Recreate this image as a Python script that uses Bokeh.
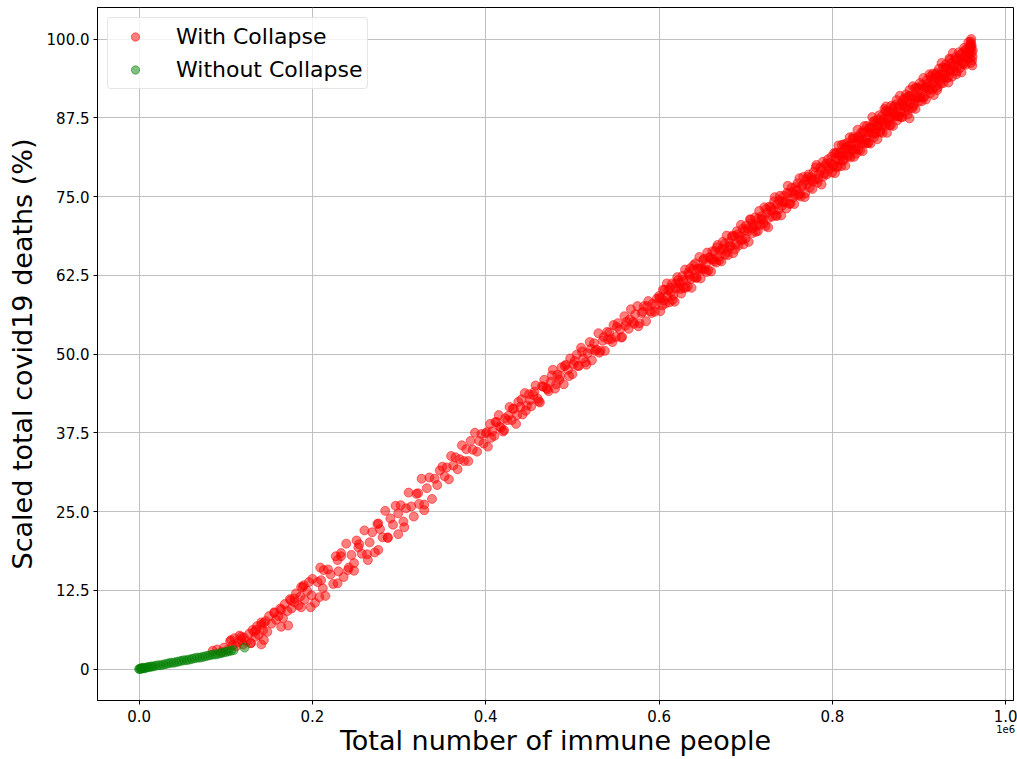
from bokeh.plotting import figure
from bokeh.models import Range1d, FixedTicker, Legend, LegendItem, LinearAxis
from bokeh.embed import file_html
from bokeh.resources import INLINE

# ---- data (x in units of 1e6 immune people, y in % of scaled deaths) ----
red_immune_seg_a = [0.085, 0.090, 0.095, 0.098, 0.102, 0.105, 0.108, 0.110, 0.112, 0.114,
                    0.116, 0.118, 0.120, 0.121, 0.124, 0.127, 0.129, 0.131, 0.134, 0.136,
                    0.138, 0.141, 0.143, 0.146, 0.148, 0.150, 0.153, 0.156, 0.158, 0.161,
                    0.163, 0.166, 0.168, 0.171, 0.174, 0.176, 0.179, 0.181, 0.184, 0.186,
                    0.189, 0.191, 0.194, 0.196, 0.199]
red_deaths_seg_a = [2.9, 3.1, 2.7, 3.4, 3.0, 4.4, 3.8, 4.9, 3.6, 4.2,
                    5.3, 4.6, 3.9, 5.0, 4.4, 5.6, 4.1, 6.2, 5.1, 6.8,
                    5.4, 7.0, 6.1, 7.6, 5.9, 8.4, 7.2, 9.0, 7.8, 8.4,
                    9.6, 8.1, 10.3, 9.2, 11.1, 9.6, 10.6, 12.0, 10.1, 11.5,
                    13.0, 11.0, 12.4, 13.8, 11.7]

red_immune_lower_extra = [0.106, 0.118, 0.129, 0.133, 0.135, 0.141, 0.141, 0.144, 0.144, 0.156,
                          0.164, 0.164, 0.172, 0.175, 0.179, 0.187, 0.187, 0.190, 0.198, 0.208,
                          0.210, 0.213, 0.229, 0.229, 0.233, 0.241, 0.248, 0.253, 0.264, 0.276,
                          0.276, 0.287, 0.299, 0.306, 0.322, 0.329]
red_deaths_lower_extra = [4.6, 5.1, 4.1, 5.9, 6.2, 3.9, 7.4, 4.6, 7.3, 8.9,
                          6.7, 9.4, 6.9, 10.9, 11.2, 9.8, 13.0, 13.3, 9.8, 11.4,
                          14.1, 15.7, 13.6, 17.3, 18.4, 15.7, 16.8, 19.3, 17.3, 18.9,
                          23.1, 20.9, 24.7, 22.5, 27.9, 25.2]

red_immune_seg_b = [0.200, 0.203, 0.206, 0.209, 0.212, 0.215, 0.218, 0.221, 0.224, 0.227,
                    0.230, 0.233, 0.236, 0.239, 0.242, 0.245, 0.248, 0.251, 0.254, 0.257,
                    0.260, 0.263, 0.266, 0.269, 0.272, 0.275, 0.278, 0.281, 0.284, 0.287,
                    0.290, 0.293, 0.296, 0.299, 0.302, 0.305, 0.308, 0.311, 0.314, 0.317,
                    0.320, 0.323, 0.326, 0.329, 0.332, 0.335, 0.338, 0.341, 0.344, 0.347]
red_deaths_seg_b = [14.3, 10.5, 13.8, 16.1, 12.8, 11.6, 15.8, 15.0, 13.5, 17.9,
                    15.5, 17.9, 14.6, 19.9, 16.1, 18.1, 15.6, 20.4, 19.8, 18.3,
                    22.0, 18.2, 20.1, 21.7, 18.5, 23.0, 22.2, 20.9, 25.1, 20.8,
                    23.9, 22.9, 25.9, 21.4, 26.0, 23.4, 25.5, 28.0, 25.8, 24.2,
                    27.8, 26.2, 30.2, 26.1, 28.7, 30.4, 27.0, 30.2, 29.2, 31.5]

red_immune_seg_c = [0.3500, 0.3525, 0.3550, 0.3575, 0.3600, 0.3625, 0.3650, 0.3675, 0.3700, 0.3725,
                    0.3750, 0.3775, 0.3800, 0.3825, 0.3850, 0.3875, 0.3900, 0.3925, 0.3950, 0.3975,
                    0.4000, 0.4025, 0.4050, 0.4075, 0.4100, 0.4125, 0.4150, 0.4175, 0.4200, 0.4225,
                    0.4250, 0.4275, 0.4300, 0.4325, 0.4350, 0.4375, 0.4400, 0.4425, 0.4450, 0.4475,
                    0.4500, 0.4525, 0.4550, 0.4575, 0.4600, 0.4625, 0.4650, 0.4675, 0.4700, 0.4725,
                    0.4750, 0.4775, 0.4800, 0.4825, 0.4850, 0.4875, 0.4900, 0.4925, 0.4950, 0.4975,
                    0.5000, 0.5025, 0.5050, 0.5075, 0.5100, 0.5125, 0.5150, 0.5175, 0.5200, 0.5225,
                    0.5250, 0.5275, 0.5300, 0.5325, 0.5350, 0.5375, 0.5400, 0.5425, 0.5450, 0.5475,
                    0.5500, 0.5525, 0.5550, 0.5575, 0.5600, 0.5625, 0.5650, 0.5675, 0.5700, 0.5725,
                    0.5750, 0.5775, 0.5800, 0.5825, 0.5850, 0.5875, 0.5900, 0.5925, 0.5950, 0.5975]
red_deaths_seg_c = [32.1, 30.6, 32.0, 30.1, 33.8, 32.3, 33.6, 31.7, 33.3, 35.5,
                    33.0, 34.9, 33.0, 36.2, 34.8, 37.5, 34.5, 36.2, 37.3, 35.8,
                    37.4, 35.3, 38.9, 37.7, 37.0, 39.2, 40.3, 38.3, 37.7, 39.8,
                    39.5, 41.6, 39.5, 41.3, 38.9, 42.4, 41.6, 40.4, 43.8, 41.8,
                    43.6, 41.7, 43.5, 45.0, 42.9, 42.3, 44.9, 45.9, 44.6, 44.1,
                    45.6, 47.5, 44.5, 46.7, 45.9, 47.9, 45.2, 48.3, 47.5, 49.3,
                    46.8, 48.9, 49.9, 48.1, 51.0, 49.3, 48.7, 50.1, 51.9, 49.0,
                    51.7, 50.7, 53.3, 50.5, 52.1, 50.5, 53.5, 53.4, 52.4, 54.6,
                    52.7, 54.9, 53.9, 52.7, 56.0, 55.1, 54.0, 57.1, 55.1, 56.3,
                    57.6, 54.9, 56.5, 57.6, 55.2, 58.4, 56.8, 58.0, 56.7, 58.8]

red_immune_seg_c2 = [0.4012, 0.4062, 0.4112, 0.4162, 0.4212, 0.4262, 0.4312, 0.4362, 0.4412, 0.4462,
                     0.4512, 0.4562, 0.4612, 0.4662, 0.4712, 0.4762, 0.4812, 0.4862, 0.4912, 0.4962,
                     0.5012, 0.5062, 0.5112, 0.5162, 0.5212, 0.5262, 0.5312, 0.5362, 0.5412, 0.5462,
                     0.5512, 0.5562, 0.5612, 0.5662, 0.5712, 0.5762, 0.5812, 0.5862, 0.5912, 0.5962]
red_deaths_seg_c2 = [37.6, 36.7, 39.2, 38.5, 37.9, 40.2, 41.3, 40.3, 42.8, 41.0,
                     42.7, 44.0, 42.5, 44.8, 44.4, 46.6, 45.2, 46.5, 48.1, 46.5,
                     48.4, 48.1, 50.4, 48.3, 50.8, 50.5, 50.2, 52.7, 52.3, 51.9,
                     54.3, 52.6, 54.5, 55.5, 54.8, 54.4, 56.7, 57.6, 56.5, 57.8]

red_immune_seg_d = [0.6000, 0.6015, 0.6030, 0.6045, 0.6060, 0.6075, 0.6090, 0.6105, 0.6120, 0.6135,
                    0.6150, 0.6165, 0.6180, 0.6195, 0.6210, 0.6225, 0.6240, 0.6255, 0.6270, 0.6285,
                    0.6300, 0.6315, 0.6330, 0.6345, 0.6360, 0.6375, 0.6390, 0.6405, 0.6420, 0.6435,
                    0.6450, 0.6465, 0.6480, 0.6495, 0.6510, 0.6525, 0.6540, 0.6555, 0.6570, 0.6585,
                    0.6600, 0.6615, 0.6630, 0.6645, 0.6660, 0.6675, 0.6690, 0.6705, 0.6720, 0.6735,
                    0.6750, 0.6765, 0.6780, 0.6795, 0.6810, 0.6825, 0.6840, 0.6855, 0.6870, 0.6885,
                    0.6900, 0.6915, 0.6930, 0.6945, 0.6960, 0.6975, 0.6990, 0.7005, 0.7020, 0.7035,
                    0.7050, 0.7065, 0.7080, 0.7095, 0.7110, 0.7125, 0.7140, 0.7155, 0.7170, 0.7185,
                    0.7200, 0.7215, 0.7230, 0.7245, 0.7260, 0.7275, 0.7290, 0.7305, 0.7320, 0.7335,
                    0.7350, 0.7365, 0.7380, 0.7395, 0.7410, 0.7425, 0.7440, 0.7455, 0.7470, 0.7485,
                    0.7500, 0.7515, 0.7530, 0.7545, 0.7560, 0.7575, 0.7590, 0.7605, 0.7620, 0.7635,
                    0.7650, 0.7665, 0.7680, 0.7695, 0.7710, 0.7725, 0.7740, 0.7755, 0.7770, 0.7785,
                    0.7800, 0.7815, 0.7830, 0.7845, 0.7860, 0.7875, 0.7890, 0.7905, 0.7920, 0.7935,
                    0.7950, 0.7965, 0.7980, 0.7995]
red_deaths_seg_d = [59.2, 56.8, 58.8, 60.2, 58.5, 58.0, 61.2, 60.1, 58.2, 59.8,
                    61.2, 59.3, 58.3, 61.2, 62.2, 60.5, 61.3, 59.6, 62.4, 60.5,
                    63.4, 61.7, 60.7, 62.6, 63.6, 60.5, 63.4, 62.2, 64.4, 62.1,
                    63.6, 65.4, 62.0, 63.4, 64.9, 63.4, 64.3, 66.1, 63.3, 65.3,
                    63.1, 66.3, 65.0, 66.3, 64.5, 67.3, 65.4, 66.4, 64.7, 67.8,
                    66.6, 65.8, 68.8, 65.7, 67.7, 67.1, 68.6, 66.0, 68.7, 67.4,
                    69.5, 67.2, 68.7, 70.5, 68.1, 67.4, 69.6, 70.4, 69.4, 67.8,
                    71.4, 70.7, 69.2, 70.5, 71.7, 70.3, 69.5, 72.7, 70.5, 71.9,
                    71.3, 73.3, 70.3, 72.4, 70.1, 73.4, 73.3, 71.8, 72.8, 74.9,
                    72.0, 73.8, 72.9, 75.1, 72.0, 74.2, 75.1, 74.0, 73.1, 76.7,
                    75.5, 73.9, 76.4, 74.8, 73.8, 76.5, 76.1, 75.2, 77.9, 75.0,
                    76.6, 78.1, 74.9, 77.6, 76.9, 78.5, 76.4, 78.0, 76.2, 78.9,
                    77.7, 80.0, 77.2, 78.6, 79.6, 76.9, 80.5, 78.6, 79.9, 78.5,
                    80.9, 79.3, 80.4, 78.8]

red_immune_seg_d2 = [0.6007, 0.6037, 0.6067, 0.6097, 0.6127, 0.6157, 0.6187, 0.6217, 0.6247, 0.6277,
                     0.6307, 0.6337, 0.6367, 0.6397, 0.6427, 0.6457, 0.6487, 0.6517, 0.6547, 0.6577,
                     0.6607, 0.6637, 0.6667, 0.6697, 0.6727, 0.6757, 0.6787, 0.6817, 0.6847, 0.6877,
                     0.6907, 0.6937, 0.6967, 0.6997, 0.7027, 0.7057, 0.7087, 0.7117, 0.7147, 0.7177,
                     0.7207, 0.7237, 0.7267, 0.7297, 0.7327, 0.7357, 0.7387, 0.7417, 0.7447, 0.7477,
                     0.7507, 0.7537, 0.7567, 0.7597, 0.7627, 0.7657, 0.7687, 0.7717, 0.7747, 0.7777,
                     0.7807, 0.7837, 0.7867, 0.7897, 0.7927, 0.7957, 0.7987]
red_deaths_seg_d2 = [58.9, 57.7, 60.2, 59.1, 60.5, 58.6, 60.5, 61.7, 60.3, 61.7,
                     60.5, 62.9, 61.9, 64.1, 62.1, 63.5, 63.6, 65.1, 63.0, 65.3,
                     65.0, 64.7, 66.9, 64.9, 66.7, 67.5, 66.2, 67.1, 68.8, 66.6,
                     69.0, 68.1, 69.9, 68.3, 69.9, 71.3, 70.0, 69.4, 71.5, 71.4,
                     70.7, 73.0, 71.6, 72.8, 74.2, 71.9, 74.4, 73.5, 74.2, 75.6,
                     73.8, 75.7, 75.3, 77.1, 75.4, 76.9, 75.5, 78.1, 77.6, 77.4,
                     79.6, 77.8, 79.1, 78.2, 80.2, 79.7, 81.3]

red_immune_seg_e = [0.801, 0.802, 0.803, 0.804, 0.805, 0.806, 0.807, 0.808, 0.809, 0.810,
                    0.811, 0.812, 0.813, 0.814, 0.815, 0.816, 0.817, 0.818, 0.819, 0.820,
                    0.821, 0.822, 0.823, 0.824, 0.825, 0.826, 0.827, 0.828, 0.829, 0.830,
                    0.831, 0.832, 0.833, 0.834, 0.835, 0.836, 0.837, 0.838, 0.839, 0.840,
                    0.841, 0.842, 0.843, 0.844, 0.845, 0.846, 0.847, 0.848, 0.849, 0.850,
                    0.851, 0.852, 0.853, 0.854, 0.855, 0.856, 0.857, 0.858, 0.859, 0.860,
                    0.861, 0.862, 0.863, 0.864, 0.865, 0.866, 0.867, 0.868, 0.869, 0.870,
                    0.871, 0.872, 0.873, 0.874, 0.875, 0.876, 0.877, 0.878, 0.879, 0.880,
                    0.881, 0.882, 0.883, 0.884, 0.885, 0.886, 0.887, 0.888, 0.889, 0.890,
                    0.891, 0.892, 0.893, 0.894, 0.895, 0.896, 0.897, 0.898, 0.899, 0.900,
                    0.901, 0.902, 0.903, 0.904, 0.905, 0.906, 0.907, 0.908, 0.909, 0.910,
                    0.911, 0.912, 0.913, 0.914, 0.915, 0.916, 0.917, 0.918, 0.919, 0.920,
                    0.921, 0.922, 0.923, 0.924, 0.925, 0.926, 0.927, 0.928, 0.929, 0.930,
                    0.931, 0.932, 0.933, 0.934, 0.935, 0.936, 0.937, 0.938, 0.939, 0.940,
                    0.941, 0.942, 0.943, 0.944, 0.945, 0.946, 0.947, 0.948, 0.949, 0.950,
                    0.951, 0.952, 0.953, 0.954, 0.955, 0.956, 0.957, 0.958]
red_deaths_seg_e = [79.8, 81.9, 78.7, 81.0, 82.0, 79.8, 83.1, 80.8, 82.0, 79.8,
                    83.2, 81.4, 80.7, 82.7, 79.9, 82.6, 83.5, 81.5, 82.5, 84.4,
                    81.2, 83.3, 82.5, 84.5, 81.3, 84.2, 82.6, 83.6, 85.6, 82.5,
                    84.1, 82.3, 85.1, 83.9, 82.2, 85.1, 86.2, 83.6, 84.1, 86.2,
                    83.5, 84.9, 86.0, 83.4, 85.9, 87.6, 84.9, 84.4, 87.0, 85.6,
                    86.8, 84.1, 86.4, 87.9, 85.4, 86.1, 87.7, 85.1, 87.3, 88.9,
                    86.2, 88.5, 85.1, 87.5, 88.5, 86.3, 88.4, 89.4, 87.6, 86.2,
                    89.3, 87.7, 88.3, 90.3, 87.1, 89.1, 87.7, 91.0, 88.3, 89.9,
                    87.6, 90.4, 89.2, 88.5, 91.2, 90.1, 88.0, 90.9, 91.9, 89.8,
                    90.9, 89.0, 92.5, 89.7, 90.9, 88.9, 92.3, 90.8, 92.2, 90.1,
                    93.0, 90.8, 90.1, 92.2, 93.8, 90.9, 92.3, 90.4, 93.5, 92.4,
                    92.0, 94.4, 91.4, 93.6, 92.9, 94.5, 91.1, 93.9, 92.5, 94.6,
                    91.9, 94.0, 95.3, 93.3, 92.9, 96.2, 94.4, 93.0, 95.4, 94.4,
                    96.0, 93.8, 95.3, 93.1, 96.9, 95.0, 96.2, 94.0, 97.8, 94.9,
                    95.8, 97.1, 94.4, 96.8, 95.9, 97.9, 95.4, 96.9, 94.7, 97.8,
                    96.0, 98.6, 97.3, 95.9, 98.3, 96.9, 99.5, 97.6]

red_immune_seg_e2 = [0.8015, 0.8035, 0.8055, 0.8075, 0.8095, 0.8115, 0.8135, 0.8155, 0.8175, 0.8195,
                     0.8215, 0.8235, 0.8255, 0.8275, 0.8295, 0.8315, 0.8335, 0.8355, 0.8375, 0.8395,
                     0.8415, 0.8435, 0.8455, 0.8475, 0.8495, 0.8515, 0.8535, 0.8555, 0.8575, 0.8595,
                     0.8615, 0.8635, 0.8655, 0.8675, 0.8695, 0.8715, 0.8735, 0.8755, 0.8775, 0.8795,
                     0.8815, 0.8835, 0.8855, 0.8875, 0.8895, 0.8915, 0.8935, 0.8955, 0.8975, 0.8995,
                     0.9015, 0.9035, 0.9055, 0.9075, 0.9095, 0.9115, 0.9135, 0.9155, 0.9175, 0.9195,
                     0.9215, 0.9235, 0.9255, 0.9275, 0.9295, 0.9315, 0.9335, 0.9355, 0.9375, 0.9395,
                     0.9415, 0.9435, 0.9455, 0.9475, 0.9495, 0.9515, 0.9535, 0.9555, 0.9575]
red_deaths_seg_e2 = [80.1, 81.8, 79.6, 81.7, 81.4, 80.7, 83.3, 81.8, 83.0, 81.4,
                     83.0, 84.2, 82.4, 81.8, 84.5, 83.9, 83.5, 85.4, 83.4, 85.2,
                     83.5, 85.8, 85.2, 86.9, 85.0, 86.2, 87.2, 85.2, 87.0, 86.6,
                     88.6, 86.7, 87.5, 86.3, 88.9, 88.0, 89.6, 87.7, 89.4, 87.6,
                     89.6, 90.6, 89.2, 88.8, 91.0, 90.4, 89.3, 92.2, 90.6, 92.0,
                     90.7, 92.7, 90.7, 92.3, 92.9, 92.0, 94.1, 92.0, 93.3, 94.4,
                     92.3, 94.3, 93.8, 95.5, 93.9, 95.4, 93.9, 96.7, 95.2, 95.7,
                     96.7, 94.8, 96.6, 97.5, 96.3, 96.1, 98.3, 97.3, 98.1]

red_immune_tip = [0.9590, 0.9595, 0.9600, 0.9603, 0.9607, 0.9610, 0.9612, 0.9615, 0.9600,
                  0.9605, 0.9595, 0.9585, 0.9575, 0.9565, 0.9618, 0.9620, 0.862, 0.889]
red_deaths_tip = [97.0, 98.4, 99.3, 100.0, 99.0, 97.8, 96.6, 95.8, 96.2,
                  98.7, 99.6, 98.9, 98.3, 97.6, 97.2, 98.2, 89.3, 87.4]

green_immune = [0.000, 0.001, 0.002, 0.003, 0.004, 0.005, 0.006, 0.008, 0.010, 0.012,
                0.014, 0.016, 0.019, 0.022, 0.025, 0.028, 0.031, 0.034, 0.037, 0.040,
                0.043, 0.046, 0.049, 0.052, 0.055, 0.058, 0.061, 0.064, 0.067, 0.070,
                0.073, 0.076, 0.079, 0.082, 0.085, 0.088, 0.091, 0.094, 0.097, 0.100,
                0.103, 0.106, 0.109, 0.1217]
green_deaths = [0.0, 0.0, 0.1, 0.1, 0.1, 0.2, 0.1, 0.2, 0.3, 0.3,
                0.4, 0.4, 0.5, 0.6, 0.6, 0.7, 0.8, 0.9, 1.0, 1.0,
                1.1, 1.2, 1.3, 1.4, 1.4, 1.5, 1.6, 1.7, 1.8, 1.8,
                1.9, 2.0, 2.1, 2.2, 2.3, 2.3, 2.4, 2.5, 2.6, 2.7,
                2.8, 2.9, 3.0, 3.4]

x_ticks = [0.0, 0.2, 0.4, 0.6, 0.8, 1.0]
x_tick_labels = ["0.0", "0.2", "0.4", "0.6", "0.8", "1.0"]
x_offset_text = "1e6"
y_ticks = [0, 12.5, 25, 37.5, 50, 62.5, 75, 87.5, 100]
y_tick_labels = ["0", "12.5", "25.0", "37.5", "50.0", "62.5", "75.0", "87.5", "100.0"]

series_labels = ["With Collapse", "Without Collapse"]

red_x = (red_immune_seg_a + red_immune_lower_extra + red_immune_seg_b + red_immune_seg_c
         + red_immune_seg_c2 + red_immune_seg_d + red_immune_seg_d2 + red_immune_seg_e
         + red_immune_seg_e2 + red_immune_tip)
red_y = (red_deaths_seg_a + red_deaths_lower_extra + red_deaths_seg_b + red_deaths_seg_c
         + red_deaths_seg_c2 + red_deaths_seg_d + red_deaths_seg_d2 + red_deaths_seg_e
         + red_deaths_seg_e2 + red_deaths_tip)

FONT = "DejaVu Sans"

p = figure(width=1017, height=759, output_backend="svg", toolbar_location=None,
           x_range=Range1d(-0.048, 1.009), y_range=Range1d(-5, 105),
           min_border_left=97, min_border_right=4, min_border_top=7, min_border_bottom=59)

p.background_fill_color = "white"
p.border_fill_color = "white"
p.outline_line_color = "black"
p.outline_line_width = 1

r_red = p.scatter(red_x, red_y, size=9, marker="circle", fill_color="#ff0000", line_color="#ff0000",
                  fill_alpha=0.5, line_alpha=0.5)
r_green = p.scatter(green_immune, green_deaths, size=9, marker="circle", fill_color="#008000",
                    line_color="#008000", fill_alpha=0.5, line_alpha=0.5)

# main x axis: ticks and tick labels only
xax = p.xaxis[0]
xax.ticker = FixedTicker(ticks=x_ticks)
xax.major_label_overrides = {t: l for t, l in zip(x_ticks, x_tick_labels)}
xax.major_label_standoff = 5

yax = p.yaxis[0]
yax.ticker = FixedTicker(ticks=y_ticks)
yax.major_label_overrides = {t: l for t, l in zip(y_ticks, y_tick_labels)}
yax.major_label_standoff = 4
yax.axis_label = "Scaled total covid19 deaths (%)"
yax.axis_label_standoff = 6

for ax in (xax, yax):
    ax.axis_line_color = "black"
    ax.major_tick_line_color = "black"
    ax.major_tick_out = 4
    ax.major_tick_in = 0
    ax.minor_tick_line_color = None
    ax.major_label_text_font = FONT
    ax.major_label_text_font_size = "15px"
    ax.major_label_text_color = "black"
    ax.axis_label_text_font = FONT
    ax.axis_label_text_font_size = "27px"
    ax.axis_label_text_font_style = "normal"
    ax.axis_label_text_color = "black"

# second x axis below: carries the "1e6" offset text and the axis title
ax2 = LinearAxis(ticker=FixedTicker(ticks=[1.0]),
                 major_label_overrides={1.0: x_offset_text})
ax2.axis_line_color = None
ax2.major_tick_line_color = None
ax2.minor_tick_line_color = None
ax2.major_tick_out = 0
ax2.major_tick_in = 0
ax2.major_label_standoff = 0
ax2.major_label_text_font = FONT
ax2.major_label_text_font_size = "10px"
ax2.major_label_text_color = "black"
ax2.axis_label = "Total number of immune people"
ax2.axis_label_text_font = FONT
ax2.axis_label_text_font_size = "27px"
ax2.axis_label_text_font_style = "normal"
ax2.axis_label_text_color = "black"
ax2.axis_label_standoff = -11
p.add_layout(ax2, "below")

for g in (p.xgrid, p.ygrid):
    g.grid_line_color = "#c0c0c0"
    g.grid_line_width = 1

legend = Legend(items=[LegendItem(label=series_labels[0], renderers=[r_red]),
                       LegendItem(label=series_labels[1], renderers=[r_green])],
                location="top_left")
legend.margin = 10
legend.padding = 5
legend.spacing = 6
legend.glyph_width = 44
legend.glyph_height = 21
legend.label_height = 27
legend.label_standoff = 19
legend.label_text_font = FONT
legend.label_text_font_size = "22px"
legend.label_text_color = "black"
legend.border_line_color = "#cccccc"
legend.border_line_width = 1
legend.background_fill_color = "white"
legend.background_fill_alpha = 0.8
if "border_radius" in legend.properties():
    legend.border_radius = 4
p.add_layout(legend)

open("out.html", "w").write(file_html(p, INLINE))
